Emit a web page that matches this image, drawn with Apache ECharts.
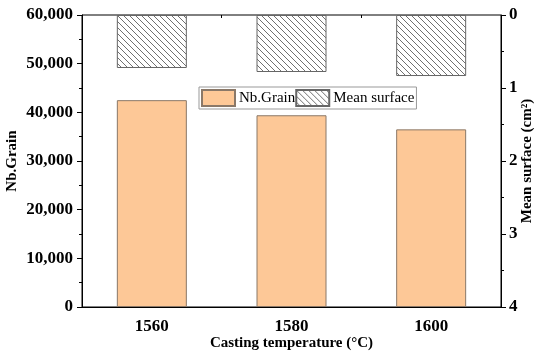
<!DOCTYPE html>
<html>
<head>
<meta charset="utf-8">
<script src="https://cdn.jsdelivr.net/npm/echarts@6/dist/echarts.min.js"></script>
<style>html,body{margin:0;padding:0;background:#fff}#c{width:550px;height:359px}</style>
</head>
<body>
<div id="c"></div>
<script>
var categories = ['1560', '1580', '1600'];
var nbGrain = [42500, 39400, 36500];
var meanSurface = [0.726, 0.781, 0.836];
var leftTicks = {min: 0, max: 60000, interval: 10000};
var rightTicks = {min: 0, max: 4, interval: 1};

function hatch() {
  var s = 6;
  var c = document.createElement('canvas');
  c.width = s; c.height = s;
  var g = c.getContext('2d');
  g.fillStyle = '#fff'; g.fillRect(0, 0, s, s);
  g.strokeStyle = '#707070'; g.lineWidth = 1;
  g.beginPath();
  g.moveTo(-1, -1); g.lineTo(s + 1, s + 1);
  g.moveTo(-1, s - 1); g.lineTo(1, s + 1);
  g.moveTo(s - 1, -1); g.lineTo(s + 1, 1);
  g.stroke();
  return c;
}

var font = 'Liberation Serif';
var chart = echarts.init(document.getElementById('c'), null, {renderer: 'canvas'});
chart.setOption({
  animation: false,
  grid: {left: 82, right: 49, top: 15, bottom: 52, show: true, borderColor: '#000', borderWidth: 1,
    backgroundColor: 'transparent', containLabel: false, outerBoundsMode: 'none'},
  legend: {
    left: 199, top: 87, padding: [2, 2, 2, 2],
    borderColor: '#999', borderWidth: 1,
    icon: 'rect',
    itemWidth: 33, itemHeight: 16, itemGap: 0,
    textStyle: {fontFamily: font, fontSize: 15, color: '#000', padding: [0, 0, 0, -1]},
    data: ['Nb.Grain', 'Mean surface']
  },
  xAxis: [{
    type: 'category', data: categories, position: 'bottom',
    axisLine: {lineStyle: {color: '#000', width: 1}},
    axisTick: {alignWithLabel: true, length: 5, lineStyle: {color: '#000'}},
    axisLabel: {fontFamily: font, fontWeight: 'bold', fontSize: 17, color: '#000', margin: 11},
    name: 'Casting temperature (°C)', nameLocation: 'middle', nameGap: 29, nameMoveOverlap: false,
    nameTextStyle: {fontFamily: font, fontWeight: 'bold', fontSize: 15, color: '#000'}
  }, {
    type: 'category', data: categories, position: 'bottom',
    axisLine: {show: false},
    axisTick: {show: true, length: 3, lineStyle: {color: '#000'}},
    axisLabel: {show: false}
  }],
  yAxis: [{
    type: 'value', min: leftTicks.min, max: leftTicks.max, interval: leftTicks.interval,
    position: 'left',
    axisLine: {show: true, lineStyle: {color: '#000'}},
    axisTick: {show: true, length: 5, lineStyle: {color: '#000'}},
    minorTick: {show: true, splitNumber: 2, length: 3, lineStyle: {color: '#000'}},
    splitLine: {show: false},
    axisLabel: {fontFamily: font, fontWeight: 'bold', fontSize: 17, color: '#000', margin: 9,
      formatter: function (v) { return v.toLocaleString('en-US'); }},
    name: 'Nb.Grain', nameLocation: 'middle', nameRotate: 90, nameGap: 62, nameMoveOverlap: false,
    nameTextStyle: {fontFamily: font, fontWeight: 'bold', fontSize: 15, color: '#000'}
  }, {
    type: 'value', min: rightTicks.min, max: rightTicks.max, interval: rightTicks.interval,
    position: 'right', inverse: true,
    axisLine: {show: true, lineStyle: {color: '#000'}},
    axisTick: {show: true, length: 5, lineStyle: {color: '#000'}},
    minorTick: {show: true, splitNumber: 2, length: 3, lineStyle: {color: '#000'}},
    splitLine: {show: false},
    axisLabel: {fontFamily: font, fontWeight: 'bold', fontSize: 17, color: '#000', margin: 8},
    name: 'Mean surface (cm²)', nameLocation: 'middle', nameRotate: 90, nameGap: 19, nameMoveOverlap: false,
    nameTextStyle: {fontFamily: font, fontWeight: 'bold', fontSize: 15, color: '#000'}
  }],
  series: [{
    name: 'Nb.Grain', type: 'bar', xAxisIndex: 0, yAxisIndex: 0,
    data: nbGrain, barWidth: 70, barGap: '-100%',
    itemStyle: {color: '#FDC897', borderColor: '#8a7868', borderWidth: 1}
  }, {
    name: 'Mean surface', type: 'bar', xAxisIndex: 0, yAxisIndex: 1,
    data: meanSurface, barWidth: 70, barGap: '-100%',
    itemStyle: {color: {image: hatch(), repeat: 'repeat'}, borderColor: '#666', borderWidth: 1}
  }]
});
</script>
</body>
</html>
